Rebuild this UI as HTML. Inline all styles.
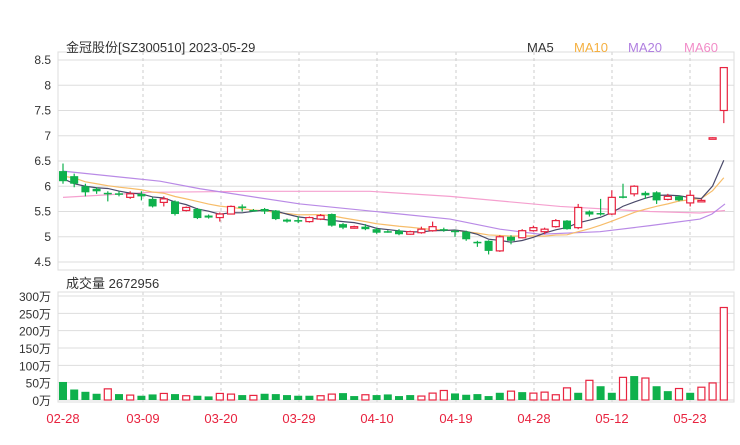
<!DOCTYPE html><html><head><meta charset="utf-8"><style>
body{margin:0;background:#fff;width:740px;height:440px;overflow:hidden}
svg text{font-family:"Liberation Sans","Noto Sans CJK SC",sans-serif}
</style></head><body>
<svg id="s" width="740" height="440" xmlns="http://www.w3.org/2000/svg"></svg>
<script>
const d=[[6.3,6.1,6.45,6.05],[6.2,6.05,6.25,5.98],[6.0,5.88,6.05,5.8],[5.95,5.9,5.98,5.85],[5.87,5.85,5.9,5.7],[5.86,5.84,5.9,5.8],[5.78,5.85,5.9,5.75],[5.85,5.8,5.9,5.72],[5.75,5.6,5.78,5.58],[5.68,5.75,5.8,5.6],[5.7,5.45,5.72,5.42],[5.52,5.58,5.6,5.5],[5.55,5.37,5.57,5.35],[5.42,5.38,5.44,5.36],[5.38,5.45,5.48,5.3],[5.45,5.6,5.62,5.44],[5.6,5.57,5.64,5.5],[5.53,5.52,5.55,5.5],[5.55,5.5,5.57,5.45],[5.52,5.35,5.53,5.33],[5.34,5.3,5.36,5.28],[5.33,5.3,5.4,5.27],[5.3,5.38,5.4,5.28],[5.35,5.42,5.45,5.33],[5.45,5.22,5.46,5.2],[5.25,5.18,5.27,5.15],[5.17,5.2,5.22,5.16],[5.2,5.15,5.25,5.13],[5.15,5.08,5.18,5.06],[5.11,5.1,5.13,5.08],[5.12,5.05,5.15,5.03],[5.05,5.1,5.12,5.04],[5.08,5.15,5.2,5.06],[5.12,5.2,5.3,5.1],[5.15,5.12,5.18,5.1],[5.12,5.1,5.14,5.0],[5.1,4.95,5.12,4.92],[4.9,4.87,4.92,4.8],[4.92,4.72,4.93,4.65],[4.72,5.0,5.03,4.7],[5.0,4.92,5.03,4.85],[4.98,5.12,5.15,4.97],[5.12,5.18,5.22,5.1],[5.1,5.15,5.18,5.05],[5.2,5.32,5.35,5.18],[5.32,5.15,5.33,5.14],[5.18,5.58,5.65,5.15],[5.5,5.44,5.52,5.4],[5.47,5.44,5.75,5.42],[5.45,5.78,5.92,5.43],[5.8,5.78,6.05,5.76],[5.85,6.0,6.02,5.8],[5.87,5.82,5.9,5.75],[5.88,5.72,5.9,5.65],[5.74,5.8,5.85,5.72],[5.8,5.72,5.82,5.7],[5.67,5.82,5.92,5.6],[5.7,5.72,5.75,5.68],[6.95,6.96,6.97,6.94],[7.5,8.35,8.35,7.25]];
const vt=[312,335,342,348,333,349,352,354,350,347,349,354,354,356,347,349,352,353,348,349,352,354,354,354,349,346,355,351,352,350,355,352,355,346,338,347,351,349,355,345,340,343,346,343,351,330,345,307,325,345,298,294,300,325,340,332,345,328,315,85];
const vr=[5,7,10,12,15,16,18,24,25,28,33,34,35,41,43,44,45,46,48,51,53,56,58,59,60];
const G='#0fb14c',R='#e8233f';
const X=i=>63+i*11.2, Y=p=>60+(8.5-p)*50.5;
let h='';
// price pane grid
for(let k=0;k<9;k++){let p=8.5-k*0.5,y=Y(p);h+=`<line x1="58" x2="734" y1="${y}" y2="${y}" stroke="#ddd"/><text x="51" y="${y+4}" font-size="12" fill="#333" text-anchor="end">${p}</text>`;}
const dx=[143,221,299,377,456,534,612,690];
dx.forEach(x=>{h+=`<line x1="${x}" x2="${x}" y1="52" y2="270" stroke="#ccc" stroke-dasharray="3,3"/><line x1="${x}" x2="${x}" y1="292" y2="402" stroke="#ccc" stroke-dasharray="3,3"/>`});
h+=`<rect x="58" y="52" width="676" height="218" fill="none" stroke="#ddd"/>`;
// vol grid
const vl=['300万','250万','200万','150万','100万','50万','0万'];
vl.forEach((t,k)=>{let y=296+k*17.33;h+=`<line x1="58" x2="734" y1="${y}" y2="${y}" stroke="#ddd"/><text x="51" y="${y+5}" font-size="12" fill="#333" text-anchor="end">${t}</text>`;});
h+=`<rect x="58" y="292" width="676" height="110" fill="none" stroke="#ddd"/>`;
// MA lines
const cl=d.map(a=>a[1]);
function ma(n){return cl.map((c,i)=>{let s=0,m=0;for(let j=Math.max(0,i-n+1);j<=i;j++){s+=cl[j];m++}return s/m})}
function pl(arr,col){return `<polyline fill="none" stroke="${col}" stroke-width="1.2" points="${arr.map((v,i)=>X(i)+','+Y(v)).join(' ')}"/>`}
let m5=ma(5);m5[0]=6.15;m5[1]=6.05;m5[2]=6.0;m5[3]=5.97;
let m10=ma(10).map((v,i)=>i<9?v+0.1*(1-i/9):v);
const m20p=[[63,6.3],[160,6.1],[200,5.95],[300,5.65],[400,5.45],[450,5.35],[500,5.15],[540,5.05],[600,5.1],[650,5.22],[700,5.35],[712,5.45],[725,5.65]];
const m60p=[[63,5.78],[150,5.88],[250,5.9],[370,5.9],[450,5.8],[560,5.6],[650,5.5],[700,5.47],[725,5.52]];
const pp=(a,c)=>`<polyline fill="none" stroke="${c}" stroke-width="1.2" points="${a.map(q=>q[0]+','+Y(q[1])).join(' ')}"/>`;
h+=pp(m60p,'#f5a0cf')+pp(m20p,'#b98ae6')+pl(m10,'#f7bd6a')+pl(m5,'#4a4a6a');
// candles
d.forEach((a,i)=>{let[o,c,hi,lo]=a,x=X(i),col=c>=o?R:G,t=Y(Math.max(o,c)),b=Y(Math.min(o,c)),hh=Math.max(b-t,1.5);
h+=`<line x1="${x}" x2="${x}" y1="${Y(hi)}" y2="${Y(lo)}" stroke="${col}" stroke-width="1.2"/>`;
h+=c>=o?`<rect x="${x-3.5}" y="${t}" width="7" height="${hh}" fill="#fff" stroke="${col}" stroke-width="1.2"/>`:`<rect x="${x-4}" y="${t}" width="8" height="${hh}" fill="${col}"/>`;
// volume
let top=400-(367-vt[i])*0.328,red=vr.includes(i+1);
h+=red?`<rect x="${x-3.5}" y="${top}" width="7" height="${400-top}" fill="#fff" stroke="${R}" stroke-width="1.2"/>`:`<rect x="${x-4}" y="${top}" width="8" height="${400-top}" fill="${G}"/>`;
});
// texts
h+=`<text x="66" y="52" font-size="13" fill="#333">金冠股份[SZ300510] 2023-05-29</text>`;
h+=`<text x="527" y="52" font-size="13" fill="#333">MA5</text><text x="574" y="52" font-size="13" fill="#f5b040">MA10</text><text x="628" y="52" font-size="13" fill="#b07fe0">MA20</text><text x="684" y="52" font-size="13" fill="#f28cc8">MA60</text>`;
h+=`<text x="66" y="288" font-size="13" fill="#333">成交量 2672956</text>`;
['02-28','03-09','03-20','03-29','04-10','04-19','04-28','05-12','05-23'].forEach((t,k)=>{let x=k==0?63:dx[k-1];h+=`<text x="${x}" y="423" font-size="13" fill="${R}" text-anchor="middle">${t}</text>`});
document.getElementById('s').innerHTML=h;
</script></body></html>
